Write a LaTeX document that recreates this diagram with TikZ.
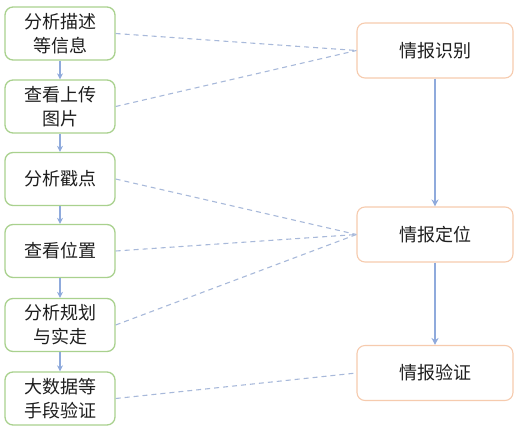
\documentclass[tikz,border=0pt]{standalone}
\usepackage{fontspec}
\setmainfont{Noto Sans CJK SC}
\usetikzlibrary{arrows.meta}
\definecolor{gbord}{HTML}{A9D18E}
\definecolor{obord}{HTML}{F6CBAE}
\definecolor{arblue}{HTML}{8FAADC}
\definecolor{dashblue}{HTML}{A8B9DA}
\definecolor{txt}{HTML}{1E1E1E}
\tikzset{
  lbox/.style={draw=gbord, line width=1.3pt, rounded corners=8pt, fill=white,
    minimum width=110pt, minimum height=53pt, inner sep=0pt, align=center,
    font=\fontsize{18}{24}\selectfont, text=txt},
  rbox/.style={draw=obord, line width=1.1pt, rounded corners=8pt, fill=white,
    minimum width=156pt, minimum height=55pt, inner sep=0pt, align=center,
    font=\fontsize{18}{24}\selectfont, text=txt},
  flow/.style={draw=arblue, line width=1.3pt, -{Stealth[length=6pt,width=6pt]}},
  rflow/.style={draw=arblue, line width=2pt, -{Stealth[length=7pt,width=7pt]}},
  link/.style={draw=dashblue, line width=1.1pt, dash pattern=on 5pt off 4pt}
}
\begin{document}
\begin{tikzpicture}[x=1pt,y=-1pt]
\useasboundingbox (0,0) rectangle (517,429);
\node[lbox] (a1) at (60,33.5) {分析描述\\等信息};
\node[lbox] (a2) at (60,106.5) {查看上传\\图片};
\node[lbox] (a3) at (60,179) {分析戳点};
\node[lbox] (a4) at (60,251) {查看位置};
\node[lbox] (a5) at (60,325) {分析规划\\与实走};
\node[lbox] (a6) at (60,398.5) {大数据等\\手段验证};
\node[rbox] (r1) at (435,50.5) {情报识别};
\node[rbox] (r2) at (435,234.5) {情报定位};
\node[rbox] (r3) at (435,373) {情报验证};
\draw[flow] (a1) -- (a2);
\draw[flow] (a2) -- (a3);
\draw[flow] (a3) -- (a4);
\draw[flow] (a4) -- (a5);
\draw[flow] (a5) -- (a6);
\draw[rflow] (r1) -- (r2);
\draw[rflow] (r2) -- (r3);
\draw[link] (a1.east) -- (r1.west);
\draw[link] (a2.east) -- (r1.west);
\draw[link] (a3.east) -- (r2.west);
\draw[link] (a4.east) -- (r2.west);
\draw[link] (a5.east) -- (r2.west);
\draw[link] (a6.east) -- (r3.west);
\end{tikzpicture}
\end{document}
